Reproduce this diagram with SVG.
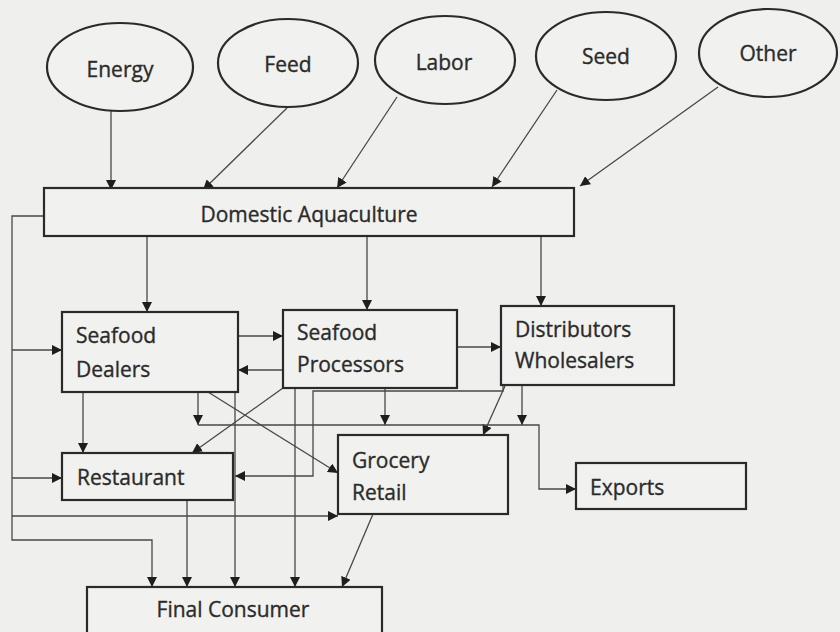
<svg xmlns="http://www.w3.org/2000/svg" width="840" height="632" viewBox="0 0 840 632">
<style>
.bg{fill:#efefed}
.node{fill:#f1f1ef;stroke:#2a2a2a;stroke-width:2.2}
.lbl{font-family:"Open Sans","Liberation Sans",sans-serif;font-size:21px;fill:#2b2b2b;stroke:#2b2b2b;stroke-width:0.35}
.mid{text-anchor:middle}
.c{fill:none;stroke:#484848;stroke-width:1.3}
.a{marker-end:url(#ah)}
</style>
<defs>
<marker id="ah" markerUnits="userSpaceOnUse" markerWidth="10" markerHeight="10" refX="10" refY="5" orient="auto">
<path d="M0,0 L10,5 L0,10 z" fill="#1e1e1e"/>
</marker>
</defs>
<rect class="bg" x="0" y="0" width="840" height="632"/>

<g id="connectors">
<path class="c a" d="M111 111 L111 190"/>
<path class="c a" d="M287 108 L203 190"/>
<path class="c a" d="M397 97 L337 188"/>
<path class="c a" d="M557 90 L492 187"/>
<path class="c a" d="M718 87 L580 186"/>
<path class="c a" d="M147 237 V312"/>
<path class="c a" d="M367 237 V310"/>
<path class="c a" d="M541 237 V306"/>
<path class="c a" d="M44 216 H12 V540 H152 V587"/>
<path class="c a" d="M12 350 H62"/>
<path class="c a" d="M12 478 H62"/>
<path class="c a" d="M12 516 H338"/>
<path class="c a" d="M238 336 H283"/>
<path class="c a" d="M283 370 H238"/>
<path class="c a" d="M457 347 H501"/>
<path class="c a" d="M83 392 V453"/>
<path class="c a" d="M198 392 V425"/>
<path class="c a" d="M208 392 L338 473"/>
<path class="c a" d="M235 392 V587"/>
<path class="c a" d="M283 388 L192 453"/>
<path class="c a" d="M295 388 V587"/>
<path class="c a" d="M385 388 V425"/>
<path class="c a" d="M522 385 V425"/>
<path class="c a" d="M505 386 L483 435"/>
<path class="c a" d="M503 385 V391 H313 V476 H235"/>
<path class="c a" d="M198 425 H539 V489 H576"/>
<path class="c a" d="M373 514 L342 587"/>
<path class="c a" d="M187 500 V587"/>
</g>

<g id="energy"><ellipse class="node" cx="120" cy="67" rx="73" ry="44"/><text class="lbl mid" x="120" y="77">Energy</text></g>
<g id="feed"><ellipse class="node" cx="288" cy="63" rx="70" ry="44"/><text class="lbl mid" x="288" y="72">Feed</text></g>
<g id="labor"><ellipse class="node" cx="445" cy="60" rx="70" ry="44"/><text class="lbl mid" x="444" y="70">Labor</text></g>
<g id="seed"><ellipse class="node" cx="606" cy="56" rx="70" ry="44"/><text class="lbl mid" x="606" y="64">Seed</text></g>
<g id="other"><ellipse class="node" cx="768" cy="53" rx="69" ry="44"/><text class="lbl mid" x="768" y="61">Other</text></g>

<g id="domestic-aquaculture"><rect class="node" x="44" y="188" width="530" height="48"/><text class="lbl mid" x="309" y="222">Domestic Aquaculture</text></g>
<g id="seafood-dealers"><rect class="node" x="62" y="312" width="176" height="80"/><text class="lbl" x="76" y="343">Seafood</text><text class="lbl" x="76" y="377">Dealers</text></g>
<g id="seafood-processors"><rect class="node" x="283" y="310" width="174" height="78"/><text class="lbl" x="297" y="340">Seafood</text><text class="lbl" x="297" y="372">Processors</text></g>
<g id="distributors-wholesalers"><rect class="node" x="501" y="306" width="173" height="79"/><text class="lbl" x="515" y="337">Distributors</text><text class="lbl" x="515" y="368">Wholesalers</text></g>
<g id="restaurant"><rect class="node" x="62" y="453" width="171" height="47"/><text class="lbl" x="77" y="485">Restaurant</text></g>
<g id="grocery-retail"><rect class="node" x="338" y="435" width="170" height="79"/><text class="lbl" x="352" y="468">Grocery</text><text class="lbl" x="352" y="500">Retail</text></g>
<g id="exports"><rect class="node" x="576" y="463" width="170" height="46"/><text class="lbl" x="590" y="495">Exports</text></g>
<g id="final-consumer"><rect class="node" x="87" y="587" width="295" height="55"/><text class="lbl mid" x="233" y="617">Final Consumer</text></g>
</svg>
